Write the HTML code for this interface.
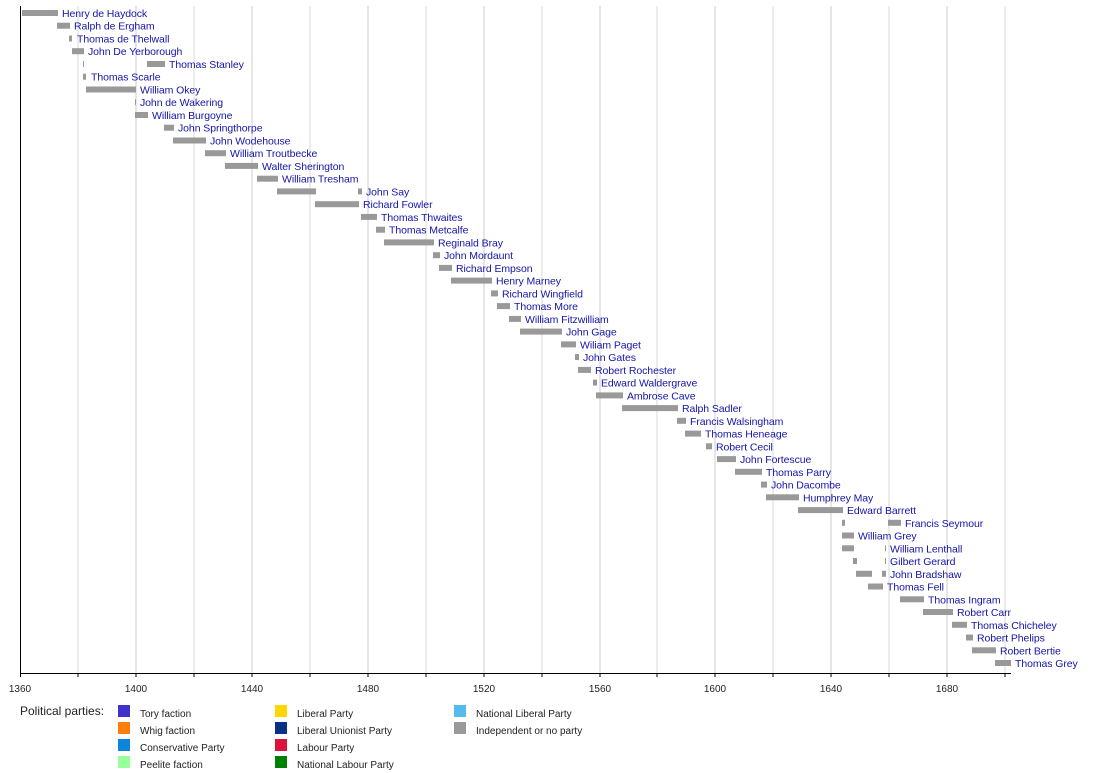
<!DOCTYPE html>
<html><head><meta charset="utf-8"><style>
html,body{margin:0;padding:0;background:#fff;}
svg{display:block;font-family:"Liberation Sans",sans-serif;}
.n{fill:#1414a8;font-size:10.5px;letter-spacing:-0.08px}
rect.b{fill:#999}
.t{font-size:10px;fill:#222}
.l{font-size:10px;fill:#222}
</style></head><body>
<svg width="1100" height="773" xmlns="http://www.w3.org/2000/svg">
<g stroke="#d8d8d8" stroke-width="1">
<line x1="78" y1="6" x2="78" y2="673"/><line x1="136" y1="6" x2="136" y2="673" stroke="#ccc"/>
<line x1="194" y1="6" x2="194" y2="673"/><line x1="252" y1="6" x2="252" y2="673" stroke="#ccc"/>
<line x1="310" y1="6" x2="310" y2="673"/><line x1="368" y1="6" x2="368" y2="673" stroke="#ccc"/>
<line x1="426" y1="6" x2="426" y2="673"/><line x1="484" y1="6" x2="484" y2="673" stroke="#ccc"/>
<line x1="542" y1="6" x2="542" y2="673"/><line x1="600" y1="6" x2="600" y2="673" stroke="#ccc"/>
<line x1="657" y1="6" x2="657" y2="673"/><line x1="715" y1="6" x2="715" y2="673" stroke="#ccc"/>
<line x1="773" y1="6" x2="773" y2="673"/><line x1="831" y1="6" x2="831" y2="673" stroke="#ccc"/>
<line x1="889" y1="6" x2="889" y2="673"/><line x1="947" y1="6" x2="947" y2="673" stroke="#ccc"/>
<line x1="1005" y1="6" x2="1005" y2="673"/>
</g>
<g stroke="#000" stroke-width="1">
<line x1="20.5" y1="6" x2="20.5" y2="677"/>
<line x1="20" y1="673.5" x2="1011" y2="673.5"/>
<line x1="78" y1="673" x2="78" y2="677"/><line x1="136" y1="673" x2="136" y2="677"/><line x1="194" y1="673" x2="194" y2="677"/><line x1="252" y1="673" x2="252" y2="677"/><line x1="310" y1="673" x2="310" y2="677"/><line x1="368" y1="673" x2="368" y2="677"/><line x1="426" y1="673" x2="426" y2="677"/><line x1="484" y1="673" x2="484" y2="677"/><line x1="542" y1="673" x2="542" y2="677"/><line x1="600" y1="673" x2="600" y2="677"/><line x1="657" y1="673" x2="657" y2="677"/><line x1="715" y1="673" x2="715" y2="677"/><line x1="773" y1="673" x2="773" y2="677"/><line x1="831" y1="673" x2="831" y2="677"/><line x1="889" y1="673" x2="889" y2="677"/><line x1="947" y1="673" x2="947" y2="677"/><line x1="1005" y1="673" x2="1005" y2="677"/>
</g>
<g class="t" text-anchor="middle">
<text x="20" y="692">1360</text><text x="136" y="692">1400</text><text x="252" y="692">1440</text><text x="368" y="692">1480</text><text x="484" y="692">1520</text><text x="600" y="692">1560</text><text x="715" y="692">1600</text><text x="831" y="692">1640</text><text x="947" y="692">1680</text>
</g>
<g>
<g transform="translate(0,13)"><rect class="b" x="22" y="-3" width="36" height="6"/><text class="n" x="62" y="4">Henry de Haydock</text></g>
<g transform="translate(0,25.7)"><rect class="b" x="57" y="-3" width="13" height="6"/><text class="n" x="74" y="4">Ralph de Ergham</text></g>
<g transform="translate(0,38.5)"><rect class="b" x="69" y="-3" width="3" height="6"/><text class="n" x="77" y="4">Thomas de Thelwall</text></g>
<g transform="translate(0,51.2)"><rect class="b" x="72" y="-3" width="12" height="6"/><text class="n" x="88" y="4">John De Yerborough</text></g>
<g transform="translate(0,64)"><rect class="b" x="83" y="-3" width="1" height="6"/><rect class="b" x="147" y="-3" width="18" height="6"/><text class="n" x="169" y="4">Thomas Stanley</text></g>
<g transform="translate(0,76.7)"><rect class="b" x="83" y="-3" width="3" height="6"/><text class="n" x="91" y="4">Thomas Scarle</text></g>
<g transform="translate(0,89.5)"><rect class="b" x="86" y="-3" width="50" height="6"/><text class="n" x="140" y="4">William Okey</text></g>
<g transform="translate(0,102.2)"><rect class="b" x="135" y="-3" width="1" height="6"/><text class="n" x="140" y="4">John de Wakering</text></g>
<g transform="translate(0,115)"><rect class="b" x="135" y="-3" width="13" height="6"/><text class="n" x="152" y="4">William Burgoyne</text></g>
<g transform="translate(0,127.7)"><rect class="b" x="164" y="-3" width="10" height="6"/><text class="n" x="178" y="4">John Springthorpe</text></g>
<g transform="translate(0,140.5)"><rect class="b" x="173" y="-3" width="33" height="6"/><text class="n" x="210" y="4">John Wodehouse</text></g>
<g transform="translate(0,153.2)"><rect class="b" x="205" y="-3" width="21" height="6"/><text class="n" x="230" y="4">William Troutbecke</text></g>
<g transform="translate(0,165.9)"><rect class="b" x="225" y="-3" width="33" height="6"/><text class="n" x="262" y="4">Walter Sherington</text></g>
<g transform="translate(0,178.7)"><rect class="b" x="257" y="-3" width="21" height="6"/><text class="n" x="282" y="4">William Tresham</text></g>
<g transform="translate(0,191.4)"><rect class="b" x="277" y="-3" width="39" height="6"/><rect class="b" x="358" y="-3" width="4" height="6"/><text class="n" x="366" y="4">John Say</text></g>
<g transform="translate(0,204.2)"><rect class="b" x="315" y="-3" width="44" height="6"/><text class="n" x="363" y="4">Richard Fowler</text></g>
<g transform="translate(0,216.9)"><rect class="b" x="361" y="-3" width="16" height="6"/><text class="n" x="381" y="4">Thomas Thwaites</text></g>
<g transform="translate(0,229.7)"><rect class="b" x="376" y="-3" width="9" height="6"/><text class="n" x="389" y="4">Thomas Metcalfe</text></g>
<g transform="translate(0,242.4)"><rect class="b" x="384" y="-3" width="50" height="6"/><text class="n" x="438" y="4">Reginald Bray</text></g>
<g transform="translate(0,255.2)"><rect class="b" x="433" y="-3" width="7" height="6"/><text class="n" x="444" y="4">John Mordaunt</text></g>
<g transform="translate(0,267.9)"><rect class="b" x="439" y="-3" width="13" height="6"/><text class="n" x="456" y="4">Richard Empson</text></g>
<g transform="translate(0,280.6)"><rect class="b" x="451" y="-3" width="41" height="6"/><text class="n" x="496" y="4">Henry Marney</text></g>
<g transform="translate(0,293.4)"><rect class="b" x="491" y="-3" width="7" height="6"/><text class="n" x="502" y="4">Richard Wingfield</text></g>
<g transform="translate(0,306.1)"><rect class="b" x="497" y="-3" width="13" height="6"/><text class="n" x="514" y="4">Thomas More</text></g>
<g transform="translate(0,318.9)"><rect class="b" x="509" y="-3" width="12" height="6"/><text class="n" x="525" y="4">William Fitzwilliam</text></g>
<g transform="translate(0,331.6)"><rect class="b" x="520" y="-3" width="42" height="6"/><text class="n" x="566" y="4">John Gage</text></g>
<g transform="translate(0,344.4)"><rect class="b" x="561" y="-3" width="15" height="6"/><text class="n" x="580" y="4">Wiliam Paget</text></g>
<g transform="translate(0,357.1)"><rect class="b" x="575" y="-3" width="4" height="6"/><text class="n" x="583" y="4">John Gates</text></g>
<g transform="translate(0,369.9)"><rect class="b" x="578" y="-3" width="13" height="6"/><text class="n" x="595" y="4">Robert Rochester</text></g>
<g transform="translate(0,382.6)"><rect class="b" x="593" y="-3" width="4" height="6"/><text class="n" x="601" y="4">Edward Waldergrave</text></g>
<g transform="translate(0,395.4)"><rect class="b" x="596" y="-3" width="27" height="6"/><text class="n" x="627" y="4">Ambrose Cave</text></g>
<g transform="translate(0,408.1)"><rect class="b" x="622" y="-3" width="56" height="6"/><text class="n" x="682" y="4">Ralph Sadler</text></g>
<g transform="translate(0,420.8)"><rect class="b" x="677" y="-3" width="9" height="6"/><text class="n" x="690" y="4">Francis Walsingham</text></g>
<g transform="translate(0,433.6)"><rect class="b" x="685" y="-3" width="16" height="6"/><text class="n" x="705" y="4">Thomas Heneage</text></g>
<g transform="translate(0,446.3)"><rect class="b" x="706" y="-3" width="6" height="6"/><text class="n" x="716" y="4">Robert Cecil</text></g>
<g transform="translate(0,459.1)"><rect class="b" x="717" y="-3" width="19" height="6"/><text class="n" x="740" y="4">John Fortescue</text></g>
<g transform="translate(0,471.8)"><rect class="b" x="735" y="-3" width="27" height="6"/><text class="n" x="766" y="4">Thomas Parry</text></g>
<g transform="translate(0,484.6)"><rect class="b" x="761" y="-3" width="6" height="6"/><text class="n" x="771" y="4">John Dacombe</text></g>
<g transform="translate(0,497.3)"><rect class="b" x="766" y="-3" width="33" height="6"/><text class="n" x="803" y="4">Humphrey May</text></g>
<g transform="translate(0,510.1)"><rect class="b" x="798" y="-3" width="45" height="6"/><text class="n" x="847" y="4">Edward Barrett</text></g>
<g transform="translate(0,522.8)"><rect class="b" x="842" y="-3" width="3" height="6"/><rect class="b" x="888" y="-3" width="13" height="6"/><text class="n" x="905" y="4">Francis Seymour</text></g>
<g transform="translate(0,535.5)"><rect class="b" x="842" y="-3" width="12" height="6"/><text class="n" x="858" y="4">William Grey</text></g>
<g transform="translate(0,548.3)"><rect class="b" x="842" y="-3" width="12" height="6"/><rect class="b" x="885" y="-3" width="1" height="6"/><text class="n" x="890" y="4">William Lenthall</text></g>
<g transform="translate(0,561)"><rect class="b" x="853" y="-3" width="4" height="6"/><rect class="b" x="885" y="-3" width="1" height="6"/><text class="n" x="890" y="4">Gilbert Gerard</text></g>
<g transform="translate(0,573.8)"><rect class="b" x="856" y="-3" width="16" height="6"/><rect class="b" x="882" y="-3" width="4" height="6"/><text class="n" x="890" y="4">John Bradshaw</text></g>
<g transform="translate(0,586.5)"><rect class="b" x="868" y="-3" width="15" height="6"/><text class="n" x="887" y="4">Thomas Fell</text></g>
<g transform="translate(0,599.3)"><rect class="b" x="900" y="-3" width="24" height="6"/><text class="n" x="928" y="4">Thomas Ingram</text></g>
<g transform="translate(0,612)"><rect class="b" x="923" y="-3" width="30" height="6"/><text class="n" x="957" y="4">Robert Carr</text></g>
<g transform="translate(0,624.8)"><rect class="b" x="952" y="-3" width="15" height="6"/><text class="n" x="971" y="4">Thomas Chicheley</text></g>
<g transform="translate(0,637.5)"><rect class="b" x="966" y="-3" width="7" height="6"/><text class="n" x="977" y="4">Robert Phelips</text></g>
<g transform="translate(0,650.3)"><rect class="b" x="972" y="-3" width="24" height="6"/><text class="n" x="1000" y="4">Robert Bertie</text></g>
<g transform="translate(0,663)"><rect class="b" x="995" y="-3" width="16" height="6"/><text class="n" x="1015" y="4">Thomas Grey</text></g>
</g>
<text x="20" y="715" style="font-size:12px;fill:#222">Political parties:</text>
<g class="l">
<rect x="118" y="705" width="12" height="12" fill="#3f33cc"/><text x="140" y="717">Tory faction</text>
<rect x="118" y="722" width="12" height="12" fill="#ff7f0e"/><text x="140" y="734">Whig faction</text>
<rect x="118" y="739" width="12" height="12" fill="#0a87dd"/><text x="140" y="751">Conservative Party</text>
<rect x="118" y="756" width="12" height="12" fill="#99ff99"/><text x="140" y="768">Peelite faction</text>
<rect x="275" y="705" width="12" height="12" fill="#ffd700"/><text x="297" y="717">Liberal Party</text>
<rect x="275" y="722" width="12" height="12" fill="#0a2f88"/><text x="297" y="734">Liberal Unionist Party</text>
<rect x="275" y="739" width="12" height="12" fill="#dc143c"/><text x="297" y="751">Labour Party</text>
<rect x="275" y="756" width="12" height="12" fill="#008000"/><text x="297" y="768">National Labour Party</text>
<rect x="454" y="705" width="12" height="12" fill="#55bbee"/><text x="476" y="717">National Liberal Party</text>
<rect x="454" y="722" width="12" height="12" fill="#999"/><text x="476" y="734">Independent or no party</text>
</g>
</svg>
</body></html>
